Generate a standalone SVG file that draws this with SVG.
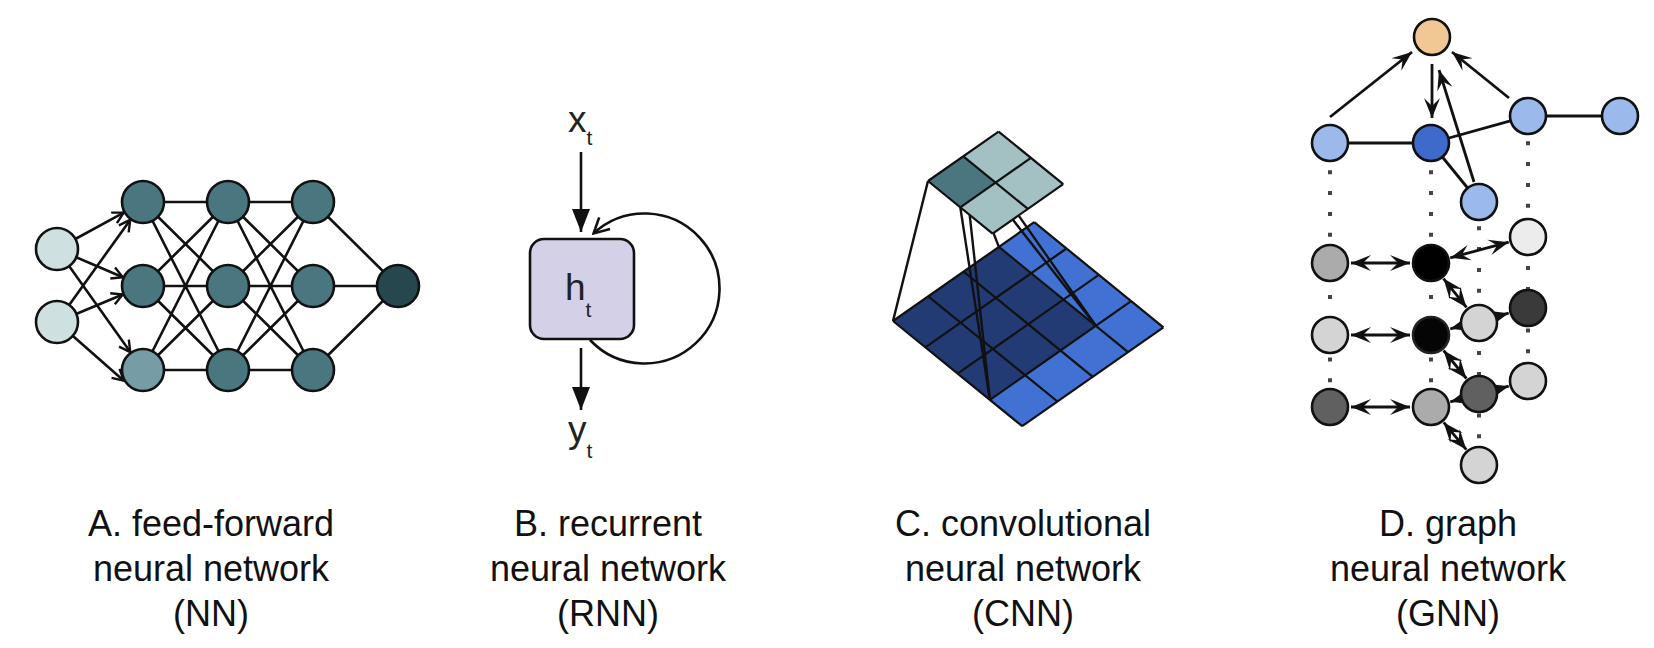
<svg xmlns="http://www.w3.org/2000/svg" width="1654" height="648" viewBox="0 0 1654 648">
<defs>
<style>
.n{stroke:#111;stroke-width:2.6}
.e{stroke:#111;stroke-width:2.6;fill:none}
.lbl{font-family:"Liberation Sans",Arial,Helvetica,sans-serif;font-size:36px;fill:#111;text-anchor:middle}
.sym{font-family:"Liberation Sans",Arial,Helvetica,sans-serif;font-size:37px;fill:#222}
.dot{stroke:#444;stroke-width:4;stroke-dasharray:4 16.8;fill:none}
.g{stroke:#111;stroke-width:2.2;fill:none;stroke-linejoin:round}
.teal{fill:#4a7680}
.lb{fill:#9cb9ec}
</style>
<marker id="chev" markerUnits="userSpaceOnUse" viewBox="-13 -8 15 16" refX="0" refY="0" markerWidth="15" markerHeight="16" orient="auto"><path d="M-11,-6 L0,0 L-11,6" fill="none" stroke="#111" stroke-width="2.4"/></marker>
<marker id="loopc" markerUnits="userSpaceOnUse" viewBox="-17 -10 19 20" refX="0" refY="0" markerWidth="19" markerHeight="20" orient="auto"><path d="M-15,-8 L0,0 L-15,8" fill="none" stroke="#111" stroke-width="2.6"/></marker>
<marker id="tri" markerUnits="userSpaceOnUse" viewBox="-24 -10 25 20" refX="0" refY="0" markerWidth="25" markerHeight="20" orient="auto"><path d="M0,0 L-23,-9 L-23,9 z" fill="#111"/></marker>
<marker id="st" markerUnits="userSpaceOnUse" viewBox="-22 -10 24 20" refX="0" refY="0" markerWidth="24" markerHeight="20" orient="auto-start-reverse"><path d="M0,0 L-20,-8 L-12,0 L-20,8 z" fill="#111"/></marker>
</defs>
<rect width="1654" height="648" fill="#ffffff"/>

<!-- ============ A: feed-forward ============ -->
<g id="A-connectors" class="e">
  <line x1="57" y1="249" x2="123.7" y2="212.6" marker-end="url(#chev)"/>
  <line x1="57" y1="249" x2="122.8" y2="277.3" marker-end="url(#chev)"/>
  <line x1="57" y1="249" x2="130.3" y2="352.1" marker-end="url(#chev)"/>
  <line x1="57" y1="322" x2="130.2" y2="219.9" marker-end="url(#chev)"/>
  <line x1="57" y1="322" x2="122.7" y2="294.5" marker-end="url(#chev)"/>
  <line x1="57" y1="322" x2="123.8" y2="380.7" marker-end="url(#chev)"/>
  <path d="M143,202L228,202M143,202L228,286M143,202L228,370M143,286L228,202M143,286L228,286M143,286L228,370M143,370L228,202M143,370L228,286M143,370L228,370"/>
  <path d="M228,202L313,202M228,202L313,286M228,202L313,370M228,286L313,202M228,286L313,286M228,286L313,370M228,370L313,202M228,370L313,286M228,370L313,370"/>
  <path d="M313,202L398,286M313,286L398,286M313,370L398,286"/>
</g>
<g id="A-in1"><circle class="n" cx="57" cy="249" r="21" fill="#cfe0e1"/></g>
<g id="A-in2"><circle class="n" cx="57" cy="322" r="21" fill="#cfe0e1"/></g>
<g id="A-h11"><circle class="n teal" cx="143" cy="202" r="21"/></g>
<g id="A-h12"><circle class="n teal" cx="143" cy="286" r="21"/></g>
<g id="A-h13"><circle class="n" cx="143" cy="370" r="21" fill="#769ca5"/></g>
<g id="A-h21"><circle class="n teal" cx="228" cy="202" r="21"/></g>
<g id="A-h22"><circle class="n teal" cx="228" cy="286" r="21"/></g>
<g id="A-h23"><circle class="n teal" cx="228" cy="370" r="21"/></g>
<g id="A-h31"><circle class="n teal" cx="313" cy="202" r="21"/></g>
<g id="A-h32"><circle class="n teal" cx="313" cy="286" r="21"/></g>
<g id="A-h33"><circle class="n teal" cx="313" cy="370" r="21"/></g>
<g id="A-out"><circle class="n" cx="398" cy="286" r="21" fill="#27474f"/></g>

<!-- ============ B: recurrent ============ -->
<g id="B-connectors" class="e">
  <line x1="581" y1="152" x2="581" y2="232" marker-end="url(#tri)"/>
  <line x1="581" y1="348" x2="581" y2="410" marker-end="url(#tri)"/>
  <path d="M590,340 A75,75 0 1 0 593.6,233.4" marker-end="url(#loopc)"/>
</g>
<g id="B-x"><text class="sym" x="568" y="132">x<tspan font-size="21" dy="13">t</tspan></text></g>
<g id="B-h">
  <rect class="n" x="530" y="239" width="104" height="100" rx="14" fill="#d4d0e7"/>
  <text class="sym" x="565" y="300">h<tspan font-size="21" dy="17">t</tspan></text>
</g>
<g id="B-y"><text class="sym" x="568" y="442">y<tspan font-size="21" dy="16">t</tspan></text></g>

<!-- ============ C: convolutional ============ -->
<g id="C-input">
  <polygon points="893,321 1034.2,222.2 1163.4,327.4 1022.2,426.2" fill="#4171d3"/>
  <polygon points="893,321 998.9,246.9 1095.8,325.8 989.9,399.9" fill="#223b74"/>
  <path class="g" d="M893,321L1034.2,222.2M925.3,347.3L1066.5,248.5M957.6,373.6L1098.8,274.8M989.9,399.9L1131.1,301.1M1022.2,426.2L1163.4,327.4M893,321L1022.2,426.2M928.3,296.3L1057.5,401.5M963.6,271.6L1092.8,376.8M998.9,246.9L1128.1,352.1M1034.2,222.2L1163.4,327.4"/>
</g>
<g id="C-connectors" class="e" style="stroke-width:2.4">
  <line x1="928" y1="181" x2="893" y2="321"/>
  <line x1="960.3" y1="207.3" x2="989.9" y2="399.9"/>
  <line x1="963.3" y1="156.3" x2="989.9" y2="399.9"/>
  <line x1="963.3" y1="156.3" x2="998.9" y2="246.9"/>
  <line x1="995.6" y1="182.6" x2="1095.8" y2="325.8"/>
  <line x1="963.3" y1="156.3" x2="1095.8" y2="325.8"/>
</g>
<g id="C-output">
  <polygon points="928,181 998.6,131.6 1063.2,184.2 992.6,233.6" fill="#a3c0c3"/>
  <polygon points="928,181 963.3,156.3 995.6,182.6 960.3,207.3" fill="#4a7680"/>
  <path class="g" d="M928,181L998.6,131.6M960.3,207.3L1030.9,157.9M992.6,233.6L1063.2,184.2M928,181L992.6,233.6M963.3,156.3L1027.9,208.9M998.6,131.6L1063.2,184.2"/>
</g>

<!-- ============ D: graph ============ -->
<g id="D-connectors">
  <g class="dot">
    <line x1="1330" y1="170.3" x2="1330" y2="392"/>
    <line x1="1431" y1="170.3" x2="1431" y2="392"/>
    <line x1="1528" y1="141.3" x2="1528" y2="372"/>
    <line x1="1479" y1="226.3" x2="1479" y2="452"/>
  </g>
  <g class="e" style="stroke-width:2.8">
    <line x1="1330" y1="143" x2="1431" y2="143"/>
    <line x1="1431" y1="143" x2="1528" y2="116"/>
    <line x1="1528" y1="116" x2="1620" y2="116"/>
    <line x1="1431" y1="143" x2="1479" y2="202"/>
    <line x1="1330" y1="117" x2="1412" y2="52" marker-end="url(#st)"/>
    <line x1="1509" y1="98" x2="1452" y2="52" marker-end="url(#st)"/>
    <line x1="1432" y1="64" x2="1432" y2="118" marker-end="url(#st)"/>
    <line x1="1474" y1="182" x2="1439" y2="70" marker-end="url(#st)"/>
    <line x1="1351" y1="263" x2="1410" y2="263" marker-start="url(#st)" marker-end="url(#st)"/>
    <line x1="1351" y1="335" x2="1410" y2="335" marker-start="url(#st)" marker-end="url(#st)"/>
    <line x1="1351" y1="407" x2="1410" y2="407" marker-start="url(#st)" marker-end="url(#st)"/>
    <line x1="1443.5" y1="278.6" x2="1466.5" y2="307.4" marker-start="url(#st)" marker-end="url(#st)"/>
    <line x1="1443.6" y1="350.5" x2="1466.4" y2="378.5" marker-start="url(#st)" marker-end="url(#st)"/>
    <line x1="1443.7" y1="422.4" x2="1466.3" y2="449.6" marker-start="url(#st)" marker-end="url(#st)"/>
    <line x1="1450.3" y1="257.8" x2="1508.7" y2="242.2" marker-start="url(#st)" marker-end="url(#st)"/>
    <line x1="1450.3" y1="328.8" x2="1508.7" y2="313.2" marker-start="url(#st)" marker-end="url(#st)"/>
    <line x1="1450.3" y1="401.8" x2="1508.7" y2="386.2" marker-start="url(#st)" marker-end="url(#st)"/>
  </g>
</g>
<g id="D-orange"><circle class="n" cx="1432" cy="37" r="18" fill="#f1c793"/></g>
<g id="D-blueL"><circle class="n lb" cx="1330" cy="143" r="18"/></g>
<g id="D-blueD"><circle class="n" cx="1431" cy="143" r="18" fill="#3e6bcb"/></g>
<g id="D-blueR"><circle class="n lb" cx="1528" cy="116" r="18"/></g>
<g id="D-blueFR"><circle class="n lb" cx="1620" cy="116" r="18"/></g>
<g id="D-blueS"><circle class="n lb" cx="1479" cy="202" r="18"/></g>
<g id="D-L1"><circle class="n" cx="1330" cy="263" r="18" fill="#ababab"/></g>
<g id="D-L2"><circle class="n" cx="1330" cy="335" r="18" fill="#d4d4d4"/></g>
<g id="D-L3"><circle class="n" cx="1330" cy="407" r="18" fill="#606060"/></g>
<g id="D-M1"><circle class="n" cx="1431" cy="263" r="18" fill="#000"/></g>
<g id="D-M2"><circle class="n" cx="1431" cy="335" r="18" fill="#050505" style="stroke:#222"/></g>
<g id="D-M3"><circle class="n" cx="1431" cy="407" r="18" fill="#ababab"/></g>
<g id="D-S1"><circle class="n" cx="1479" cy="323" r="18" fill="#d4d4d4"/></g>
<g id="D-S2"><circle class="n" cx="1479" cy="394" r="18" fill="#606060"/></g>
<g id="D-S3"><circle class="n" cx="1479" cy="465" r="18" fill="#d4d4d4"/></g>
<g id="D-R1"><circle class="n" cx="1528" cy="237" r="18" fill="#ececec"/></g>
<g id="D-R2"><circle class="n" cx="1528" cy="308" r="18" fill="#3a3a3a"/></g>
<g id="D-R3"><circle class="n" cx="1528" cy="381" r="18" fill="#d4d4d4"/></g>

<!-- ============ labels ============ -->
<g id="labels" class="lbl">
  <text x="211" y="536">A. feed-forward</text>
  <text x="211" y="581">neural network</text>
  <text x="211" y="626">(NN)</text>
  <text x="608" y="536">B. recurrent</text>
  <text x="608" y="581">neural network</text>
  <text x="608" y="626">(RNN)</text>
  <text x="1023" y="536">C. convolutional</text>
  <text x="1023" y="581">neural network</text>
  <text x="1023" y="626">(CNN)</text>
  <text x="1448" y="536">D. graph</text>
  <text x="1448" y="581">neural network</text>
  <text x="1448" y="626">(GNN)</text>
</g>
</svg>
